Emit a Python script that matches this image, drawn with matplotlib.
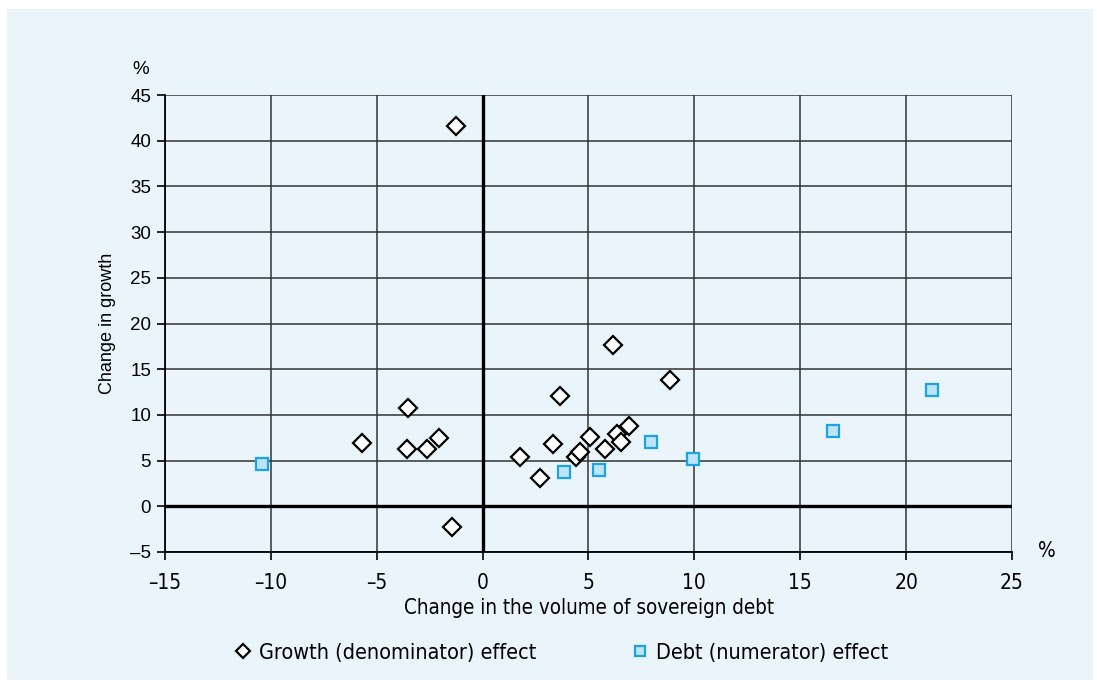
import matplotlib.pyplot as plt
from matplotlib.patches import Rectangle

# Growth (denominator) effect
growth_x = [-1.28, -1.45, -5.7, -3.51, -3.55, -2.63, -2.07, 1.75, 2.7, 3.3, 3.66,
            4.43, 4.6, 5.07, 5.78, 6.16, 6.35, 6.54, 6.92, 8.86]
growth_y = [41.6, -2.3, 6.9, 10.8, 6.25, 6.25, 7.5, 5.4, 3.15, 6.85, 12.05,
            5.4, 5.95, 7.55, 6.25, 17.65, 7.9, 7.05, 8.75, 13.8]

# Debt (numerator) effect
debt_x = [-10.43, 3.86, 5.48, 7.95, 9.95, 16.56, 21.24]
debt_y = [4.6, 3.8, 4.0, 7.0, 5.15, 8.2, 12.7]

xticks = [-15, -10, -5, 0, 5, 10, 15, 20, 25]
yticks = [-5, 0, 5, 10, 15, 20, 25, 30, 35, 40, 45]

cond = dict(family=['DejaVu Sans'], stretch='condensed')
regular = ['Liberation Sans', 'DejaVu Sans']
bg = '#e9f4fb'

fig = plt.figure(figsize=(10.97, 6.83), dpi=100, facecolor='white')
fig.patches.append(Rectangle((7 / 1097, 3 / 683), 1086 / 1097, 671 / 683,
                             transform=fig.transFigure, facecolor=bg,
                             edgecolor='none', zorder=-10))

ax = fig.add_axes([165 / 1097, 1 - 552 / 683, 847 / 1097, 457 / 683])
ax.set_facecolor(bg)
ax.set_xlim(-15, 25)
ax.set_ylim(-5, 45)
ax.set_xticks(xticks)
ax.set_yticks(yticks)
ax.set_xticklabels([str(v).replace('-', '\u2013') for v in xticks], fontsize=15, **cond)
ax.set_yticklabels([str(v).replace('-', '\u2013') for v in yticks], family=regular, fontsize=13.5)
ax.tick_params(axis='both', direction='out', length=6, width=1.2, color='black', pad=4)
ax.tick_params(axis='x', pad=9)

ax.grid(True, color='#333333', linewidth=1.1)
ax.set_axisbelow(True)
for s in ['top', 'right']:
    ax.spines[s].set_visible(False)
for s in ['left', 'bottom']:
    ax.spines[s].set_linewidth(1.3)
ax.axhline(0, color='black', linewidth=2.4, zorder=1)
ax.axvline(0, color='black', linewidth=2.4, zorder=1)

ax.plot(growth_x, growth_y, linestyle='none', marker='D', markersize=8.8,
        markerfacecolor='white', markeredgecolor='black', markeredgewidth=1.6,
        label='Growth (denominator) effect', zorder=3)
ax.plot(debt_x, debt_y, linestyle='none', marker='s', markersize=9,
        markerfacecolor='#bde4f7', markeredgecolor='#1ba4e0', markeredgewidth=1.6,
        label='Debt (numerator) effect', zorder=3)

ax.set_xlabel('Change in the volume of sovereign debt', fontsize=14.8, labelpad=4, **cond)
ax.set_ylabel('Change in growth', family=regular, fontsize=13, labelpad=10)

fig.text(141 / 1097, 1 - 70 / 683, '%', family=regular, fontsize=13.5, ha='center', va='center')
fig.text(1047 / 1097, 1 - 551 / 683, '%', fontsize=15, ha='center', va='center', **cond)

fig.legend(loc='center', bbox_to_anchor=(561 / 1097, 1 - 653 / 683), ncol=2, frameon=False,
           prop={'family': 'DejaVu Sans', 'stretch': 'condensed', 'size': 15.5},
           markerscale=0.8, handlelength=0.8, handletextpad=0.35, columnspacing=4.4)

fig.savefig('out.png', dpi=100, facecolor='white')
